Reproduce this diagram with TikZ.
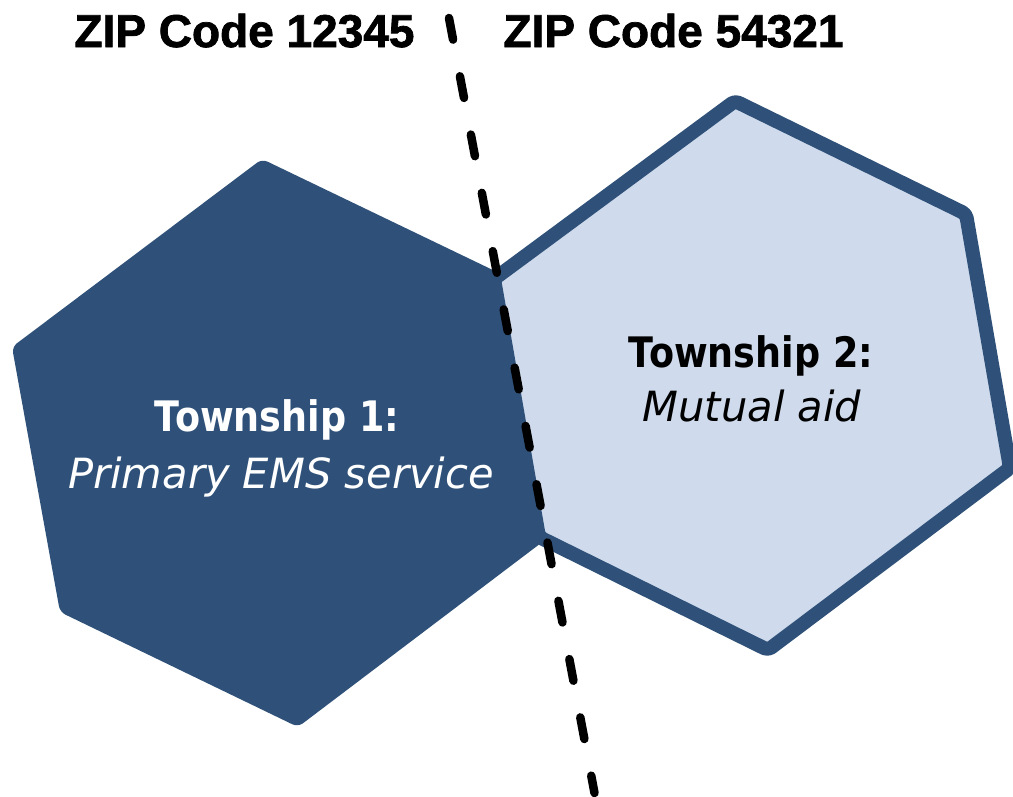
\documentclass[tikz,border=0pt]{standalone}
\usepackage{fontspec}
\newfontfamily\zipfont{Liberation Sans}[FakeBold=1.6]
\newfontfamily\townfont{DejaVu Sans}[FakeStretch=0.87]
\newfontfamily\townitfont{DejaVu Sans}
\definecolor{hexdark}{HTML}{2F5179}
\definecolor{hexlight}{HTML}{CFDBEC}
\tikzset{
  ziplabel/.style={font=\zipfont\bfseries\fontsize{46}{50}\selectfont, text=black, inner sep=0pt, anchor=base},
  townhead/.style={font=\townfont\bfseries\fontsize{42}{50}\selectfont, inner sep=0pt, anchor=base},
  townsub/.style={font=\townitfont\itshape\fontsize{41.6}{50}\selectfont, inner sep=0pt, anchor=base},
  darkhex/.style={fill=hexdark, rounded corners=6pt},
  lighthex/.style={fill=hexlight, draw=hexdark, line width=14pt, line join=round, rounded corners=4pt},
  borderline/.style={draw=black, line width=8.5pt, line cap=round, dash pattern=on 22pt off 37.3pt}
}
\begin{document}
\begin{tikzpicture}[x=1pt,y=-1pt]
\useasboundingbox (0,0) rectangle (1013,796);
\clip (0,0) rectangle (1013,796);
\fill[white] (0,0) rectangle (1013,796);
% Township 1 hexagon
\path[darkhex] (262,159) -- (497,272) -- (545,540) -- (298,727) -- (60,612) -- (12,347) -- cycle;
% Township 2 hexagon
\path[lighthex] (735,101) -- (966,214) -- (1010,468) -- (768,650) -- (539,537) -- (494,279) -- cycle;
% texts
\node[ziplabel] (zip1) at (244.5,47) {ZIP Code 12345};
\node[ziplabel] (zip2) at (673.5,47) {ZIP Code 54321};
\node[townhead, text=white] (t1a) at (277,431) {Township 1:};
\node[townsub, text=white] (t1b) at (281,488) {Primary EMS service};
\node[townhead, text=black] (t2a) at (751,367) {Township 2:};
\node[townsub, text=black] (t2b) at (752,421) {Mutual aid};
% ZIP code border
\coordinate (btop) at (449,18);
\coordinate (bbot) at (594.5,793);
\draw[borderline] (btop) -- (bbot);
\end{tikzpicture}
\end{document}
